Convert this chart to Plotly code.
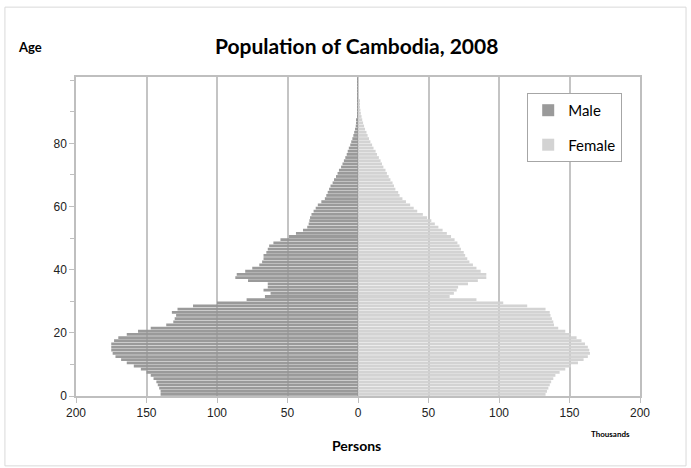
import plotly.graph_objects as go

ages = list(range(0, 101))

male = [140, 140, 141, 142, 143, 145, 147, 150, 154, 159,
        164, 168, 172, 174, 175, 175, 175, 173, 170, 164,
        156, 147, 136, 131, 130, 129, 132, 128, 117, 100,
        79, 66, 62, 67, 64, 64, 78, 87, 86, 80,
        75, 70, 68, 67, 67, 65, 64, 63, 60, 55,
        49, 44, 39, 36, 35, 34.5, 34, 33, 31.5, 30,
        28.5, 26, 23.5, 22.5, 21.5, 20.5, 19.5, 18, 17, 15.6,
        14.5, 13.5, 12, 11, 10, 9, 8, 7.3, 6.5, 5.5,
        4.8, 4, 3.3, 2.7, 2.1, 1.6, 1.2, 0.9, 0.7, 0.5,
        0.35, 0.25, 0.18, 0.12, 0.08, 0.05, 0.03, 0.02, 0.01, 0.01, 0.01]

female = [133, 134, 135, 136, 137, 138.5, 140, 143, 147, 151,
          156, 160, 163, 164.5, 164, 163, 161, 158.5, 155, 151,
          147, 142, 139, 138.5, 137.5, 136.5, 136, 133, 120, 103,
          84, 65, 68, 70, 71, 78, 85, 91, 91, 87,
          84, 81.5, 79, 77.5, 76, 75, 73, 72, 70.5, 68.5,
          66, 63, 60, 57, 54.5, 52, 49, 46, 42, 39.5,
          37, 34, 31.5, 29.5, 28.5, 26.5, 25.5, 24.5, 23, 21.8,
          20.5, 19.5, 18, 17, 16, 14.8, 13.5, 12.5, 11, 10,
          8.8, 7.8, 6.8, 6, 5, 4.3, 3.6, 3, 2.5, 2,
          1.7, 1.3, 1, 0.8, 0.5, 0.35, 0.25, 0.15, 0.1, 0.05, 0.03]

x_tickvals = [-200, -150, -100, -50, 0, 50, 100, 150, 200]
x_ticktext = ["200", "150", "100", "50", "0", "50", "100", "150", "200"]
y_tickvals = [0, 20, 40, 60, 80]

y_pos = [a + 0.5 for a in ages]

fig = go.Figure()
fig.add_trace(go.Bar(
    y=y_pos, x=[-v for v in male], orientation="h", name="Male",
    marker=dict(color="#969696", line=dict(width=0)), opacity=0.96,
    legendgroup="m", hoverinfo="skip"))
fig.add_trace(go.Bar(
    y=y_pos, x=female, orientation="h", name="Female",
    marker=dict(color="#d2d2d2", line=dict(width=0)), opacity=0.96,
    legendgroup="f", hoverinfo="skip"))

fig.update_layout(
    width=691, height=468,
    margin=dict(l=76, r=51, t=77, b=72),
    paper_bgcolor="white", plot_bgcolor="white",
    barmode="relative", bargap=0.12,
    font=dict(family="Lato", color="#000000"),
    showlegend=True,
    legend=dict(x=0.80, y=0.95, xanchor="left", yanchor="top",
                bgcolor="white", bordercolor="#a6a6a6", borderwidth=1,
                font=dict(family="Lato", size=15, color="#000"),
                tracegroupgap=12, traceorder="grouped", itemwidth=30),
)

fig.update_xaxes(
    range=[-200, 200], tickvals=x_tickvals, ticktext=x_ticktext,
    showgrid=True, gridcolor="#c4c4c4", gridwidth=1.5, zeroline=False,
    showline=True, linecolor="#bfbfbf", linewidth=1.5, mirror=True,
    ticks="outside", ticklen=5, tickcolor="#bfbfbf",
    tickfont=dict(family="Liberation Sans", size=12, color="#222"),
)
fig.update_yaxes(
    range=[0, 101], tickvals=y_tickvals,
    showgrid=False, zeroline=False,
    showline=True, linecolor="#bfbfbf", linewidth=1.5, mirror=True,
    ticks="outside", ticklen=5, tickcolor="#bfbfbf",
    minor=dict(tickmode="linear", tick0=0, dtick=10, ticks="outside", ticklen=4, tickcolor="#bfbfbf"),
    tickfont=dict(family="Liberation Sans", size=12, color="#222"),
)

fig.add_annotation(text="<b>Population of Cambodia, 2008</b>", xref="paper", yref="paper",
                   x=0.498, y=1.100, showarrow=False, font=dict(family="Lato", size=21, color="#000"),
                   xanchor="center", yanchor="middle")
fig.add_annotation(text="<b>Age</b>", xref="paper", yref="paper",
                   x=-0.082, y=1.094, showarrow=False, font=dict(family="Lato", size=13, color="#000"),
                   xanchor="center", yanchor="middle")
fig.add_annotation(text="<b>Persons</b>", xref="paper", yref="paper",
                   x=0.498, y=-0.154, showarrow=False, font=dict(family="Lato", size=14, color="#000"),
                   xanchor="center", yanchor="middle")
fig.add_annotation(text="<b>Thousands</b>", xref="paper", yref="paper",
                   x=0.947, y=-0.119, showarrow=False, font=dict(family="Lato", size=8, color="#000"),
                   xanchor="center", yanchor="middle")

fig.add_shape(type="rect", xref="paper", yref="paper",
              x0=-0.126, x1=1.0816, y0=-0.219, y1=1.219,
              line=dict(color="#d9d9d9", width=1), layer="below")

fig.write_html("out.html")
